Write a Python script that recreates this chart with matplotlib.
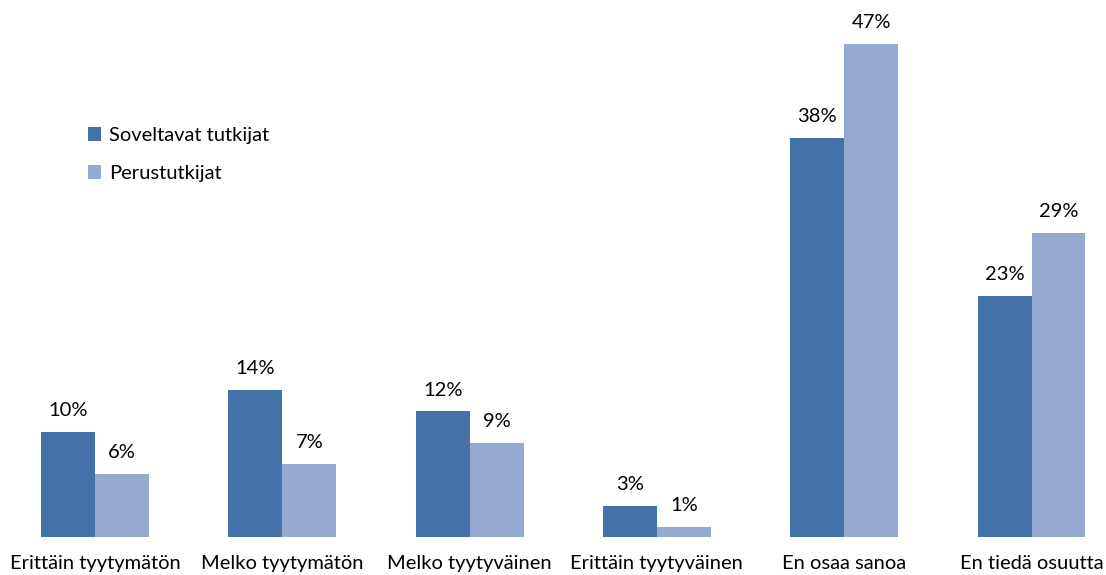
import numpy as np
import matplotlib.pyplot as plt

# data
categories = ['Erittäin tyytymätön', 'Melko tyytymätön', 'Melko tyytyväinen',
              'Erittäin tyytyväinen', 'En osaa sanoa', 'En tiedä osuutta']
soveltavat = [10, 14, 12, 3, 38, 23]
perus = [6, 7, 9, 1, 47, 29]
series_names = ['Soveltavat tutkijat', 'Perustutkijat']

plt.rcParams['font.family'] = ['Lato', 'DejaVu Sans']
fs = 14.5

fig = plt.figure(figsize=(11.06, 5.75), dpi=100)
ax = fig.add_axes([0, 38 / 575, 1, 525 / 575])

x = np.arange(len(categories))
w = 0.288
b1 = ax.bar(x - w / 2, soveltavat, w, color='#4472a8', label=series_names[0])
b2 = ax.bar(x + w / 2, perus, w, color='#95aad1', label=series_names[1])

for bars, vals in ((b1, soveltavat), (b2, perus)):
    for r, v in zip(bars, vals):
        ax.annotate(f'{v}%', (r.get_x() + r.get_width() / 2, v),
                    xytext=(0, 9), textcoords='offset points',
                    ha='center', va='bottom', fontsize=fs)

ax.set_xlim(-95 / 187.3, (1106 - 95) / 187.3)
ax.set_ylim(0, 50)
ax.set_xticks(x)
ax.set_xticklabels(categories, fontsize=fs)
ax.tick_params(axis='x', length=0, pad=13)
ax.set_yticks([])
for s in ax.spines.values():
    s.set_visible(False)

ax.legend(loc='upper left', bbox_to_anchor=(70 / 1106, 1 - 97 / 525),
          bbox_transform=ax.transAxes, frameon=False, fontsize=fs,
          handlelength=0.65, handleheight=0.65, handletextpad=0.4,
          labelspacing=1.05)

fig.savefig('out.png', dpi=100)
